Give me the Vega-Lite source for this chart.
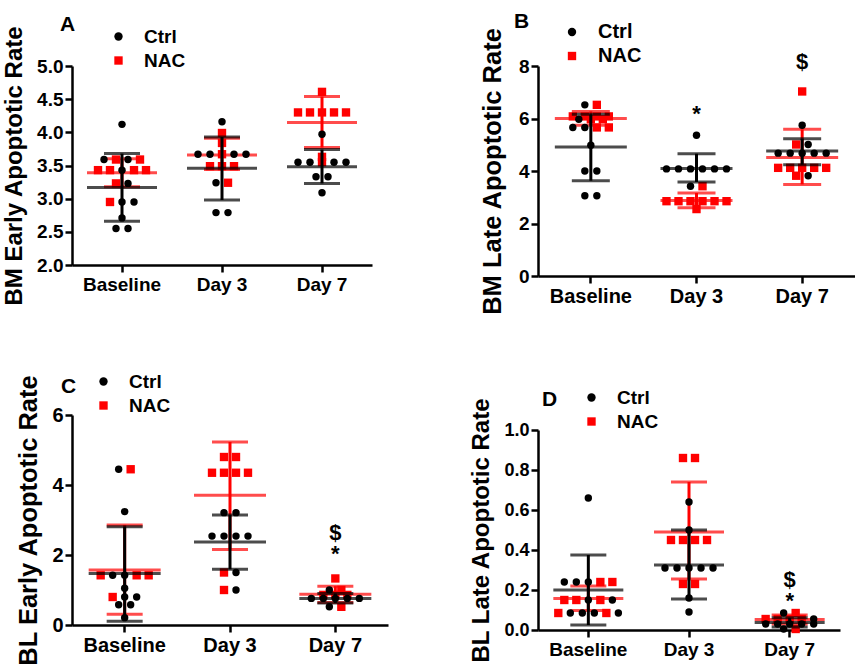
{
"$schema":"https://vega.github.io/schema/vega-lite/v6.json",
"padding":{"left":2,"top":11,"right":0,"bottom":0},
"background":"white",
"datasets":{
"pts":[
{"p":"A","day":"Baseline","g":"Ctrl","v":4.12},
{"p":"A","day":"Baseline","g":"Ctrl","v":3.59},{"p":"A","day":"Baseline","g":"NAC","v":3.59},{"p":"A","day":"Baseline","g":"Ctrl","v":3.59},{"p":"A","day":"Baseline","g":"NAC","v":3.59},
{"p":"A","day":"Baseline","g":"NAC","v":3.43},{"p":"A","day":"Baseline","g":"NAC","v":3.43},{"p":"A","day":"Baseline","g":"Ctrl","v":3.43},{"p":"A","day":"Baseline","g":"NAC","v":3.43},{"p":"A","day":"Baseline","g":"NAC","v":3.43},
{"p":"A","day":"Baseline","g":"NAC","v":3.23},{"p":"A","day":"Baseline","g":"Ctrl","v":3.23},
{"p":"A","day":"Baseline","g":"NAC","v":2.95},{"p":"A","day":"Baseline","g":"Ctrl","v":2.95},{"p":"A","day":"Baseline","g":"Ctrl","v":2.95},
{"p":"A","day":"Baseline","g":"Ctrl","v":2.71},
{"p":"A","day":"Baseline","g":"Ctrl","v":2.55},{"p":"A","day":"Baseline","g":"Ctrl","v":2.55},
{"p":"A","day":"Day 3","g":"Ctrl","v":4.16},
{"p":"A","day":"Day 3","g":"NAC","v":3.99},
{"p":"A","day":"Day 3","g":"NAC","v":3.84},
{"p":"A","day":"Day 3","g":"Ctrl","v":3.67},{"p":"A","day":"Day 3","g":"Ctrl","v":3.67},{"p":"A","day":"Day 3","g":"NAC","v":3.67},{"p":"A","day":"Day 3","g":"Ctrl","v":3.67},{"p":"A","day":"Day 3","g":"Ctrl","v":3.67},
{"p":"A","day":"Day 3","g":"NAC","v":3.49},{"p":"A","day":"Day 3","g":"NAC","v":3.49},{"p":"A","day":"Day 3","g":"NAC","v":3.49},
{"p":"A","day":"Day 3","g":"Ctrl","v":3.24},{"p":"A","day":"Day 3","g":"NAC","v":3.24},
{"p":"A","day":"Day 3","g":"Ctrl","v":2.79},{"p":"A","day":"Day 3","g":"Ctrl","v":2.79},
{"p":"A","day":"Day 7","g":"NAC","v":4.61},
{"p":"A","day":"Day 7","g":"NAC","v":4.3},{"p":"A","day":"Day 7","g":"NAC","v":4.3},{"p":"A","day":"Day 7","g":"NAC","v":4.3},{"p":"A","day":"Day 7","g":"NAC","v":4.3},{"p":"A","day":"Day 7","g":"NAC","v":4.3},
{"p":"A","day":"Day 7","g":"Ctrl","v":3.97},
{"p":"A","day":"Day 7","g":"NAC","v":3.63},
{"p":"A","day":"Day 7","g":"Ctrl","v":3.55},{"p":"A","day":"Day 7","g":"Ctrl","v":3.55},{"p":"A","day":"Day 7","g":"NAC","v":3.55},{"p":"A","day":"Day 7","g":"Ctrl","v":3.55},{"p":"A","day":"Day 7","g":"Ctrl","v":3.55},
{"p":"A","day":"Day 7","g":"Ctrl","v":3.33},{"p":"A","day":"Day 7","g":"Ctrl","v":3.33},
{"p":"A","day":"Day 7","g":"Ctrl","v":3.09},
{"p":"B","day":"Baseline","g":"Ctrl","v":6.52},{"p":"B","day":"Baseline","g":"NAC","v":6.52},
{"p":"B","day":"Baseline","g":"NAC","v":6.08},{"p":"B","day":"Baseline","g":"NAC","v":6.08},{"p":"B","day":"Baseline","g":"NAC","v":6.08},{"p":"B","day":"Baseline","g":"NAC","v":6.08},
{"p":"B","day":"Baseline","g":"Ctrl","v":5.97},{"p":"B","day":"Baseline","g":"NAC","v":5.97},{"p":"B","day":"Baseline","g":"NAC","v":5.97},
{"p":"B","day":"Baseline","g":"Ctrl","v":5.66},{"p":"B","day":"Baseline","g":"Ctrl","v":5.66},{"p":"B","day":"Baseline","g":"NAC","v":5.66},{"p":"B","day":"Baseline","g":"NAC","v":5.66},
{"p":"B","day":"Baseline","g":"Ctrl","v":4.98},
{"p":"B","day":"Baseline","g":"Ctrl","v":4.0},{"p":"B","day":"Baseline","g":"Ctrl","v":4.0},
{"p":"B","day":"Baseline","g":"Ctrl","v":3.06},{"p":"B","day":"Baseline","g":"Ctrl","v":3.06},
{"p":"B","day":"Day 3","g":"Ctrl","v":5.36},
{"p":"B","day":"Day 3","g":"Ctrl","v":4.08},{"p":"B","day":"Day 3","g":"Ctrl","v":4.08},{"p":"B","day":"Day 3","g":"Ctrl","v":4.08},{"p":"B","day":"Day 3","g":"Ctrl","v":4.08},{"p":"B","day":"Day 3","g":"Ctrl","v":4.08},{"p":"B","day":"Day 3","g":"Ctrl","v":4.08},
{"p":"B","day":"Day 3","g":"Ctrl","v":3.42},{"p":"B","day":"Day 3","g":"NAC","v":3.42},
{"p":"B","day":"Day 3","g":"NAC","v":2.85},{"p":"B","day":"Day 3","g":"NAC","v":2.85},{"p":"B","day":"Day 3","g":"NAC","v":2.85},{"p":"B","day":"Day 3","g":"NAC","v":2.85},{"p":"B","day":"Day 3","g":"NAC","v":2.85},{"p":"B","day":"Day 3","g":"NAC","v":2.85},
{"p":"B","day":"Day 3","g":"NAC","v":2.55},
{"p":"B","day":"Day 7","g":"NAC","v":7.03},
{"p":"B","day":"Day 7","g":"Ctrl","v":5.74},
{"p":"B","day":"Day 7","g":"NAC","v":5.01},{"p":"B","day":"Day 7","g":"Ctrl","v":5.01},
{"p":"B","day":"Day 7","g":"Ctrl","v":4.68},{"p":"B","day":"Day 7","g":"Ctrl","v":4.68},{"p":"B","day":"Day 7","g":"Ctrl","v":4.68},{"p":"B","day":"Day 7","g":"Ctrl","v":4.68},{"p":"B","day":"Day 7","g":"Ctrl","v":4.68},
{"p":"B","day":"Day 7","g":"NAC","v":4.12},{"p":"B","day":"Day 7","g":"NAC","v":4.12},{"p":"B","day":"Day 7","g":"NAC","v":4.12},{"p":"B","day":"Day 7","g":"NAC","v":4.12},{"p":"B","day":"Day 7","g":"NAC","v":4.12},
{"p":"B","day":"Day 7","g":"NAC","v":3.82},{"p":"B","day":"Day 7","g":"Ctrl","v":3.82},
{"p":"C","day":"Baseline","g":"Ctrl","v":4.45},{"p":"C","day":"Baseline","g":"NAC","v":4.45},
{"p":"C","day":"Baseline","g":"Ctrl","v":3.24},
{"p":"C","day":"Baseline","g":"NAC","v":1.42},{"p":"C","day":"Baseline","g":"Ctrl","v":1.42},{"p":"C","day":"Baseline","g":"Ctrl","v":1.42},{"p":"C","day":"Baseline","g":"NAC","v":1.42},{"p":"C","day":"Baseline","g":"NAC","v":1.42},
{"p":"C","day":"Baseline","g":"Ctrl","v":1.05},
{"p":"C","day":"Baseline","g":"NAC","v":0.8},{"p":"C","day":"Baseline","g":"Ctrl","v":0.8},{"p":"C","day":"Baseline","g":"Ctrl","v":0.8},
{"p":"C","day":"Baseline","g":"Ctrl","v":0.58},{"p":"C","day":"Baseline","g":"Ctrl","v":0.58},
{"p":"C","day":"Baseline","g":"Ctrl","v":0.21},
{"p":"C","day":"Day 3","g":"NAC","v":4.8},{"p":"C","day":"Day 3","g":"NAC","v":4.8},
{"p":"C","day":"Day 3","g":"NAC","v":4.35},{"p":"C","day":"Day 3","g":"NAC","v":4.35},{"p":"C","day":"Day 3","g":"NAC","v":4.35},{"p":"C","day":"Day 3","g":"NAC","v":4.35},
{"p":"C","day":"Day 3","g":"Ctrl","v":3.21},{"p":"C","day":"Day 3","g":"Ctrl","v":3.21},
{"p":"C","day":"Day 3","g":"Ctrl","v":2.54},{"p":"C","day":"Day 3","g":"Ctrl","v":2.54},{"p":"C","day":"Day 3","g":"Ctrl","v":2.54},{"p":"C","day":"Day 3","g":"Ctrl","v":2.54},
{"p":"C","day":"Day 3","g":"NAC","v":1.5},{"p":"C","day":"Day 3","g":"Ctrl","v":1.5},
{"p":"C","day":"Day 3","g":"NAC","v":1.0},{"p":"C","day":"Day 3","g":"Ctrl","v":1.0},
{"p":"C","day":"Day 7","g":"NAC","v":1.33},
{"p":"C","day":"Day 7","g":"Ctrl","v":1.0},{"p":"C","day":"Day 7","g":"NAC","v":1.0},
{"p":"C","day":"Day 7","g":"NAC","v":0.86},{"p":"C","day":"Day 7","g":"NAC","v":0.86},{"p":"C","day":"Day 7","g":"NAC","v":0.86},
{"p":"C","day":"Day 7","g":"Ctrl","v":0.76},{"p":"C","day":"Day 7","g":"Ctrl","v":0.76},{"p":"C","day":"Day 7","g":"Ctrl","v":0.76},{"p":"C","day":"Day 7","g":"Ctrl","v":0.76},{"p":"C","day":"Day 7","g":"Ctrl","v":0.76},
{"p":"C","day":"Day 7","g":"Ctrl","v":0.52},{"p":"C","day":"Day 7","g":"NAC","v":0.52},
{"p":"D","day":"Baseline","g":"Ctrl","v":0.66},
{"p":"D","day":"Baseline","g":"Ctrl","v":0.24},{"p":"D","day":"Baseline","g":"Ctrl","v":0.24},{"p":"D","day":"Baseline","g":"Ctrl","v":0.24},{"p":"D","day":"Baseline","g":"NAC","v":0.24},{"p":"D","day":"Baseline","g":"NAC","v":0.24},
{"p":"D","day":"Baseline","g":"NAC","v":0.15},{"p":"D","day":"Baseline","g":"NAC","v":0.15},{"p":"D","day":"Baseline","g":"Ctrl","v":0.15},{"p":"D","day":"Baseline","g":"NAC","v":0.15},{"p":"D","day":"Baseline","g":"Ctrl","v":0.15},
{"p":"D","day":"Baseline","g":"NAC","v":0.085},{"p":"D","day":"Baseline","g":"Ctrl","v":0.085},{"p":"D","day":"Baseline","g":"Ctrl","v":0.085},{"p":"D","day":"Baseline","g":"Ctrl","v":0.085},{"p":"D","day":"Baseline","g":"NAC","v":0.085},{"p":"D","day":"Baseline","g":"Ctrl","v":0.085},
{"p":"D","day":"Day 3","g":"NAC","v":0.86},{"p":"D","day":"Day 3","g":"NAC","v":0.86},
{"p":"D","day":"Day 3","g":"Ctrl","v":0.64},
{"p":"D","day":"Day 3","g":"Ctrl","v":0.5},
{"p":"D","day":"Day 3","g":"NAC","v":0.45},{"p":"D","day":"Day 3","g":"NAC","v":0.45},{"p":"D","day":"Day 3","g":"NAC","v":0.45},{"p":"D","day":"Day 3","g":"NAC","v":0.45},
{"p":"D","day":"Day 3","g":"Ctrl","v":0.31},{"p":"D","day":"Day 3","g":"Ctrl","v":0.31},{"p":"D","day":"Day 3","g":"Ctrl","v":0.31},{"p":"D","day":"Day 3","g":"Ctrl","v":0.31},{"p":"D","day":"Day 3","g":"Ctrl","v":0.31},
{"p":"D","day":"Day 3","g":"NAC","v":0.23},{"p":"D","day":"Day 3","g":"NAC","v":0.23},
{"p":"D","day":"Day 3","g":"Ctrl","v":0.16},
{"p":"D","day":"Day 3","g":"Ctrl","v":0.09},
{"p":"D","day":"Day 7","g":"Ctrl","v":0.085},{"p":"D","day":"Day 7","g":"NAC","v":0.085},
{"p":"D","day":"Day 7","g":"NAC","v":0.055},{"p":"D","day":"Day 7","g":"NAC","v":0.055},{"p":"D","day":"Day 7","g":"NAC","v":0.055},{"p":"D","day":"Day 7","g":"NAC","v":0.055},{"p":"D","day":"Day 7","g":"Ctrl","v":0.055},
{"p":"D","day":"Day 7","g":"Ctrl","v":0.03},{"p":"D","day":"Day 7","g":"Ctrl","v":0.03},{"p":"D","day":"Day 7","g":"Ctrl","v":0.03},{"p":"D","day":"Day 7","g":"Ctrl","v":0.03},{"p":"D","day":"Day 7","g":"Ctrl","v":0.03},
{"p":"D","day":"Day 7","g":"Ctrl","v":0.005},{"p":"D","day":"Day 7","g":"NAC","v":0.005}
],
"sum":[
{"p":"A","day":"Baseline","g":"Ctrl","m":3.17,"lo":2.66,"hi":3.68},
{"p":"A","day":"Baseline","g":"NAC","m":3.39,"lo":3.18,"hi":3.6},
{"p":"A","day":"Day 3","g":"Ctrl","m":3.46,"lo":2.98,"hi":3.93},
{"p":"A","day":"Day 3","g":"NAC","m":3.66,"lo":3.44,"hi":3.91},
{"p":"A","day":"Day 7","g":"Ctrl","m":3.48,"lo":3.23,"hi":3.74},
{"p":"A","day":"Day 7","g":"NAC","m":4.15,"lo":3.77,"hi":4.54},
{"p":"B","day":"Baseline","g":"Ctrl","m":4.91,"lo":3.63,"hi":6.16},
{"p":"B","day":"Baseline","g":"NAC","m":6.0,"lo":5.74,"hi":6.27},
{"p":"B","day":"Day 3","g":"Ctrl","m":4.1,"lo":3.58,"hi":4.66},
{"p":"B","day":"Day 3","g":"NAC","m":2.88,"lo":2.6,"hi":3.16},
{"p":"B","day":"Day 7","g":"Ctrl","m":4.76,"lo":4.24,"hi":5.23},
{"p":"B","day":"Day 7","g":"NAC","m":4.51,"lo":3.49,"hi":5.59},
{"p":"C","day":"Baseline","g":"Ctrl","m":1.47,"lo":0.11,"hi":2.81},
{"p":"C","day":"Baseline","g":"NAC","m":1.57,"lo":0.31,"hi":2.86},
{"p":"C","day":"Day 3","g":"Ctrl","m":2.37,"lo":1.59,"hi":3.14},
{"p":"C","day":"Day 3","g":"NAC","m":3.71,"lo":2.16,"hi":5.23},
{"p":"C","day":"Day 7","g":"Ctrl","m":0.76,"lo":0.63,"hi":0.9},
{"p":"C","day":"Day 7","g":"NAC","m":0.88,"lo":0.64,"hi":1.11},
{"p":"D","day":"Baseline","g":"Ctrl","m":0.2,"lo":0.025,"hi":0.375},
{"p":"D","day":"Baseline","g":"NAC","m":0.158,"lo":0.097,"hi":0.22},
{"p":"D","day":"Day 3","g":"Ctrl","m":0.325,"lo":0.155,"hi":0.5},
{"p":"D","day":"Day 3","g":"NAC","m":0.49,"lo":0.255,"hi":0.74},
{"p":"D","day":"Day 7","g":"Ctrl","m":0.038,"lo":0.015,"hi":0.061},
{"p":"D","day":"Day 7","g":"NAC","m":0.052,"lo":0.03,"hi":0.075}
],
"ann":[
{"p":"B","day":"Day 3","v":6.16,"t":"*"},
{"p":"B","day":"Day 7","v":8.15,"t":"$"},
{"p":"C","day":"Day 7","v":2.64,"t":"$"},
{"p":"C","day":"Day 7","v":2.02,"t":"*"},
{"p":"D","day":"Day 7","v":0.25,"t":"$"},
{"p":"D","day":"Day 7","v":0.145,"t":"*"}
]
},
"hconcat":[
{"vconcat":[
{
"width":300,"height":199,
"title":{"text":"A","anchor":"start","frame":"group","dx":-12,"offset":0,"dy":10},
"encoding":{"x":{"field":"day","type":"nominal","scale":{"domain":["Baseline","Day 3","Day 7"],"paddingInner":0,"paddingOuter":0},"axis":{"title":null,"labelAngle":0,"labelPadding":3,"labelFontSize":19}}},
"layer":[
{"data":{"name":"pts"},"transform":[{"filter":"datum.p==='A'"},{"window":[{"op":"row_number","as":"r"}],"groupby":["day","v"]},{"joinaggregate":[{"op":"count","as":"n"}],"groupby":["day","v"]},{"calculate":"datum.r-(datum.n+1)/2","as":"o"},{"filter":"datum.g==='NAC'"}],
"mark":{"type":"point","filled":true,"opacity":1,"size":70},
"encoding":{"y":{"field":"v","type":"quantitative","scale":{"domain":[2,5]},"axis":{"title":"BM Early Apoptotic Rate","values":[2,2.5,3,3.5,4,4.5,5],"format":".1f","titleFontSize":24,"labelFontSize":19,"labelOverlap":false}},
"xOffset":{"field":"o","type":"quantitative","scale":{"domain":[-4.1667,4.1667]}},
"color":{"field":"g","type":"nominal","scale":{"domain":["Ctrl","NAC"],"range":["#000000","#ff0000"]},"legend":{"orient":"none","legendX":37,"legendY":-39,"title":null}},
"shape":{"field":"g","type":"nominal","scale":{"domain":["Ctrl","NAC"],"range":["circle","square"]},"legend":{"orient":"none","legendX":37,"legendY":-39,"title":null}}}},
{"data":{"name":"sum"},"transform":[{"filter":"datum.p==='A' && datum.g==='NAC'"}],"layer":[
{"mark":{"type":"rule","color":"#ff0000","strokeWidth":3},"encoding":{"y":{"field":"lo","type":"quantitative","scale":{"domain":[2,5]},"axis":{"title":"BM Early Apoptotic Rate","values":[2,2.5,3,3.5,4,4.5,5],"format":".1f","titleFontSize":24,"labelFontSize":19,"labelOverlap":false}},"y2":{"field":"hi"}}},
{"mark":{"type":"tick","color":"#ff0000","size":70,"thickness":3},"encoding":{"y":{"field":"m","type":"quantitative","scale":{"domain":[2,5]},"axis":{"title":"BM Early Apoptotic Rate","values":[2,2.5,3,3.5,4,4.5,5],"format":".1f","titleFontSize":24,"labelFontSize":19,"labelOverlap":false}}}},
{"mark":{"type":"tick","color":"#ff0000","size":36,"thickness":3},"encoding":{"y":{"field":"lo","type":"quantitative","scale":{"domain":[2,5]},"axis":{"title":"BM Early Apoptotic Rate","values":[2,2.5,3,3.5,4,4.5,5],"format":".1f","titleFontSize":24,"labelFontSize":19,"labelOverlap":false}}}},
{"mark":{"type":"tick","color":"#ff0000","size":36,"thickness":3},"encoding":{"y":{"field":"hi","type":"quantitative","scale":{"domain":[2,5]},"axis":{"title":"BM Early Apoptotic Rate","values":[2,2.5,3,3.5,4,4.5,5],"format":".1f","titleFontSize":24,"labelFontSize":19,"labelOverlap":false}}}}
]},
{"data":{"name":"pts"},"transform":[{"filter":"datum.p==='A'"},{"window":[{"op":"row_number","as":"r"}],"groupby":["day","v"]},{"joinaggregate":[{"op":"count","as":"n"}],"groupby":["day","v"]},{"calculate":"datum.r-(datum.n+1)/2","as":"o"},{"filter":"datum.g==='Ctrl'"}],
"mark":{"type":"point","filled":true,"opacity":1,"size":55},
"encoding":{"y":{"field":"v","type":"quantitative","scale":{"domain":[2,5]},"axis":{"title":"BM Early Apoptotic Rate","values":[2,2.5,3,3.5,4,4.5,5],"format":".1f","titleFontSize":24,"labelFontSize":19,"labelOverlap":false}},
"xOffset":{"field":"o","type":"quantitative","scale":{"domain":[-4.1667,4.1667]}},
"color":{"field":"g","type":"nominal","scale":{"domain":["Ctrl","NAC"],"range":["#000000","#ff0000"]},"legend":{"orient":"none","legendX":37,"legendY":-39,"title":null}},
"shape":{"field":"g","type":"nominal","scale":{"domain":["Ctrl","NAC"],"range":["circle","square"]},"legend":{"orient":"none","legendX":37,"legendY":-39,"title":null}}}},
{"data":{"name":"sum"},"transform":[{"filter":"datum.p==='A' && datum.g==='Ctrl'"}],"layer":[
{"mark":{"type":"rule","color":"#000000","strokeWidth":3},"encoding":{"y":{"field":"lo","type":"quantitative","scale":{"domain":[2,5]},"axis":{"title":"BM Early Apoptotic Rate","values":[2,2.5,3,3.5,4,4.5,5],"format":".1f","titleFontSize":24,"labelFontSize":19,"labelOverlap":false}},"y2":{"field":"hi"}}},
{"mark":{"type":"tick","color":"#000000","size":70,"thickness":3},"encoding":{"y":{"field":"m","type":"quantitative","scale":{"domain":[2,5]},"axis":{"title":"BM Early Apoptotic Rate","values":[2,2.5,3,3.5,4,4.5,5],"format":".1f","titleFontSize":24,"labelFontSize":19,"labelOverlap":false}}}},
{"mark":{"type":"tick","color":"#000000","size":36,"thickness":3},"encoding":{"y":{"field":"lo","type":"quantitative","scale":{"domain":[2,5]},"axis":{"title":"BM Early Apoptotic Rate","values":[2,2.5,3,3.5,4,4.5,5],"format":".1f","titleFontSize":24,"labelFontSize":19,"labelOverlap":false}}}},
{"mark":{"type":"tick","color":"#000000","size":36,"thickness":3},"encoding":{"y":{"field":"hi","type":"quantitative","scale":{"domain":[2,5]},"axis":{"title":"BM Early Apoptotic Rate","values":[2,2.5,3,3.5,4,4.5,5],"format":".1f","titleFontSize":24,"labelFontSize":19,"labelOverlap":false}}}}
]}
]
},
{
"width":316,"height":210,
"title":{"text":"C","anchor":"start","frame":"group","dx":-11,"offset":0,"dy":25},
"encoding":{"x":{"field":"day","type":"nominal","scale":{"domain":["Baseline","Day 3","Day 7"],"paddingInner":0,"paddingOuter":0},"axis":{"title":null,"labelAngle":0,"labelPadding":3,"labelFontSize":20}}},
"layer":[
{"data":{"name":"pts"},"transform":[{"filter":"datum.p==='C'"},{"window":[{"op":"row_number","as":"r"}],"groupby":["day","v"]},{"joinaggregate":[{"op":"count","as":"n"}],"groupby":["day","v"]},{"calculate":"datum.r-(datum.n+1)/2","as":"o"},{"filter":"datum.g==='NAC'"}],
"mark":{"type":"point","filled":true,"opacity":1,"size":70},
"encoding":{"y":{"field":"v","type":"quantitative","scale":{"domain":[0,6]},"axis":{"title":"BL Early Apoptotic Rate","values":[0,2,4,6],"titleFontSize":25.5,"labelFontSize":20,"labelOverlap":false}},
"xOffset":{"field":"o","type":"quantitative","scale":{"domain":[-4.39,4.39]}},
"color":{"field":"g","type":"nominal","scale":{"domain":["Ctrl","NAC"],"range":["#000000","#ff0000"]},"legend":{"orient":"none","legendX":22,"legendY":-43,"title":null}},
"shape":{"field":"g","type":"nominal","scale":{"domain":["Ctrl","NAC"],"range":["circle","square"]},"legend":{"orient":"none","legendX":22,"legendY":-43,"title":null}}}},
{"data":{"name":"sum"},"transform":[{"filter":"datum.p==='C' && datum.g==='NAC'"}],"layer":[
{"mark":{"type":"rule","color":"#ff0000","strokeWidth":3},"encoding":{"y":{"field":"lo","type":"quantitative","scale":{"domain":[0,6]},"axis":{"title":"BL Early Apoptotic Rate","values":[0,2,4,6],"titleFontSize":25.5,"labelFontSize":20,"labelOverlap":false}},"y2":{"field":"hi"}}},
{"mark":{"type":"tick","color":"#ff0000","size":72,"thickness":3},"encoding":{"y":{"field":"m","type":"quantitative","scale":{"domain":[0,6]},"axis":{"title":"BL Early Apoptotic Rate","values":[0,2,4,6],"titleFontSize":25.5,"labelFontSize":20,"labelOverlap":false}}}},
{"mark":{"type":"tick","color":"#ff0000","size":36,"thickness":3},"encoding":{"y":{"field":"lo","type":"quantitative","scale":{"domain":[0,6]},"axis":{"title":"BL Early Apoptotic Rate","values":[0,2,4,6],"titleFontSize":25.5,"labelFontSize":20,"labelOverlap":false}}}},
{"mark":{"type":"tick","color":"#ff0000","size":36,"thickness":3},"encoding":{"y":{"field":"hi","type":"quantitative","scale":{"domain":[0,6]},"axis":{"title":"BL Early Apoptotic Rate","values":[0,2,4,6],"titleFontSize":25.5,"labelFontSize":20,"labelOverlap":false}}}}
]},
{"data":{"name":"pts"},"transform":[{"filter":"datum.p==='C'"},{"window":[{"op":"row_number","as":"r"}],"groupby":["day","v"]},{"joinaggregate":[{"op":"count","as":"n"}],"groupby":["day","v"]},{"calculate":"datum.r-(datum.n+1)/2","as":"o"},{"filter":"datum.g==='Ctrl'"}],
"mark":{"type":"point","filled":true,"opacity":1,"size":55},
"encoding":{"y":{"field":"v","type":"quantitative","scale":{"domain":[0,6]},"axis":{"title":"BL Early Apoptotic Rate","values":[0,2,4,6],"titleFontSize":25.5,"labelFontSize":20,"labelOverlap":false}},
"xOffset":{"field":"o","type":"quantitative","scale":{"domain":[-4.39,4.39]}},
"color":{"field":"g","type":"nominal","scale":{"domain":["Ctrl","NAC"],"range":["#000000","#ff0000"]},"legend":{"orient":"none","legendX":22,"legendY":-43,"title":null}},
"shape":{"field":"g","type":"nominal","scale":{"domain":["Ctrl","NAC"],"range":["circle","square"]},"legend":{"orient":"none","legendX":22,"legendY":-43,"title":null}}}},
{"data":{"name":"sum"},"transform":[{"filter":"datum.p==='C' && datum.g==='Ctrl'"}],"layer":[
{"mark":{"type":"rule","color":"#000000","strokeWidth":3},"encoding":{"y":{"field":"lo","type":"quantitative","scale":{"domain":[0,6]},"axis":{"title":"BL Early Apoptotic Rate","values":[0,2,4,6],"titleFontSize":25.5,"labelFontSize":20,"labelOverlap":false}},"y2":{"field":"hi"}}},
{"mark":{"type":"tick","color":"#000000","size":72,"thickness":3},"encoding":{"y":{"field":"m","type":"quantitative","scale":{"domain":[0,6]},"axis":{"title":"BL Early Apoptotic Rate","values":[0,2,4,6],"titleFontSize":25.5,"labelFontSize":20,"labelOverlap":false}}}},
{"mark":{"type":"tick","color":"#000000","size":36,"thickness":3},"encoding":{"y":{"field":"lo","type":"quantitative","scale":{"domain":[0,6]},"axis":{"title":"BL Early Apoptotic Rate","values":[0,2,4,6],"titleFontSize":25.5,"labelFontSize":20,"labelOverlap":false}}}},
{"mark":{"type":"tick","color":"#000000","size":36,"thickness":3},"encoding":{"y":{"field":"hi","type":"quantitative","scale":{"domain":[0,6]},"axis":{"title":"BL Early Apoptotic Rate","values":[0,2,4,6],"titleFontSize":25.5,"labelFontSize":20,"labelOverlap":false}}}}
]},
{"data":{"name":"ann"},"transform":[{"filter":"datum.p==='C'"}],"mark":{"type":"text","fontSize":22,"fontWeight":"bold","color":"#000000","baseline":"middle","align":"center"},"encoding":{"y":{"field":"v","type":"quantitative","scale":{"domain":[0,6]},"axis":{"title":"BL Early Apoptotic Rate","values":[0,2,4,6],"titleFontSize":25.5,"labelFontSize":20,"labelOverlap":false}},"text":{"field":"t"}}}
]
}
],"spacing":66,"resolve":{"scale":{"color":"independent","shape":"independent","xOffset":"independent","x":"independent","y":"independent"},"legend":{"color":"independent","shape":"independent"}}},
{"vconcat":[
{
"width":317,"height":210,
"title":{"text":"B","anchor":"start","frame":"group","dx":-24,"offset":0,"dy":10},
"encoding":{"x":{"field":"day","type":"nominal","scale":{"domain":["Baseline","Day 3","Day 7"],"paddingInner":0,"paddingOuter":0},"axis":{"title":null,"labelAngle":0,"labelPadding":3,"labelFontSize":20}}},
"layer":[
{"data":{"name":"pts"},"transform":[{"filter":"datum.p==='B'"},{"window":[{"op":"row_number","as":"r"}],"groupby":["day","v"]},{"joinaggregate":[{"op":"count","as":"n"}],"groupby":["day","v"]},{"calculate":"datum.r-(datum.n+1)/2","as":"o"},{"filter":"datum.g==='NAC'"}],
"mark":{"type":"point","filled":true,"opacity":1,"size":70},
"encoding":{"y":{"field":"v","type":"quantitative","scale":{"domain":[0,8]},"axis":{"title":"BM Late Apoptotic Rate","values":[0,2,4,6,8],"titleFontSize":25.5,"labelFontSize":19,"titlePadding":13,"labelOverlap":false}},
"xOffset":{"field":"o","type":"quantitative","scale":{"domain":[-4.4,4.4]}},
"color":{"field":"g","type":"nominal","scale":{"domain":["Ctrl","NAC"],"range":["#000000","#ff0000"]},"legend":{"orient":"none","legendX":24,"legendY":-44,"title":null,"labelFontSize":20}},
"shape":{"field":"g","type":"nominal","scale":{"domain":["Ctrl","NAC"],"range":["circle","square"]},"legend":{"orient":"none","legendX":24,"legendY":-44,"title":null,"labelFontSize":20}}}},
{"data":{"name":"sum"},"transform":[{"filter":"datum.p==='B' && datum.g==='NAC'"}],"layer":[
{"mark":{"type":"rule","color":"#ff0000","strokeWidth":3},"encoding":{"y":{"field":"lo","type":"quantitative","scale":{"domain":[0,8]},"axis":{"title":"BM Late Apoptotic Rate","values":[0,2,4,6,8],"titleFontSize":25.5,"labelFontSize":19,"titlePadding":13,"labelOverlap":false}},"y2":{"field":"hi"}}},
{"mark":{"type":"tick","color":"#ff0000","size":72,"thickness":3},"encoding":{"y":{"field":"m","type":"quantitative","scale":{"domain":[0,8]},"axis":{"title":"BM Late Apoptotic Rate","values":[0,2,4,6,8],"titleFontSize":25.5,"labelFontSize":19,"titlePadding":13,"labelOverlap":false}}}},
{"mark":{"type":"tick","color":"#ff0000","size":38,"thickness":3},"encoding":{"y":{"field":"lo","type":"quantitative","scale":{"domain":[0,8]},"axis":{"title":"BM Late Apoptotic Rate","values":[0,2,4,6,8],"titleFontSize":25.5,"labelFontSize":19,"titlePadding":13,"labelOverlap":false}}}},
{"mark":{"type":"tick","color":"#ff0000","size":38,"thickness":3},"encoding":{"y":{"field":"hi","type":"quantitative","scale":{"domain":[0,8]},"axis":{"title":"BM Late Apoptotic Rate","values":[0,2,4,6,8],"titleFontSize":25.5,"labelFontSize":19,"titlePadding":13,"labelOverlap":false}}}}
]},
{"data":{"name":"pts"},"transform":[{"filter":"datum.p==='B'"},{"window":[{"op":"row_number","as":"r"}],"groupby":["day","v"]},{"joinaggregate":[{"op":"count","as":"n"}],"groupby":["day","v"]},{"calculate":"datum.r-(datum.n+1)/2","as":"o"},{"filter":"datum.g==='Ctrl'"}],
"mark":{"type":"point","filled":true,"opacity":1,"size":55},
"encoding":{"y":{"field":"v","type":"quantitative","scale":{"domain":[0,8]},"axis":{"title":"BM Late Apoptotic Rate","values":[0,2,4,6,8],"titleFontSize":25.5,"labelFontSize":19,"titlePadding":13,"labelOverlap":false}},
"xOffset":{"field":"o","type":"quantitative","scale":{"domain":[-4.4,4.4]}},
"color":{"field":"g","type":"nominal","scale":{"domain":["Ctrl","NAC"],"range":["#000000","#ff0000"]},"legend":{"orient":"none","legendX":24,"legendY":-44,"title":null,"labelFontSize":20}},
"shape":{"field":"g","type":"nominal","scale":{"domain":["Ctrl","NAC"],"range":["circle","square"]},"legend":{"orient":"none","legendX":24,"legendY":-44,"title":null,"labelFontSize":20}}}},
{"data":{"name":"sum"},"transform":[{"filter":"datum.p==='B' && datum.g==='Ctrl'"}],"layer":[
{"mark":{"type":"rule","color":"#000000","strokeWidth":3},"encoding":{"y":{"field":"lo","type":"quantitative","scale":{"domain":[0,8]},"axis":{"title":"BM Late Apoptotic Rate","values":[0,2,4,6,8],"titleFontSize":25.5,"labelFontSize":19,"titlePadding":13,"labelOverlap":false}},"y2":{"field":"hi"}}},
{"mark":{"type":"tick","color":"#000000","size":72,"thickness":3},"encoding":{"y":{"field":"m","type":"quantitative","scale":{"domain":[0,8]},"axis":{"title":"BM Late Apoptotic Rate","values":[0,2,4,6,8],"titleFontSize":25.5,"labelFontSize":19,"titlePadding":13,"labelOverlap":false}}}},
{"mark":{"type":"tick","color":"#000000","size":38,"thickness":3},"encoding":{"y":{"field":"lo","type":"quantitative","scale":{"domain":[0,8]},"axis":{"title":"BM Late Apoptotic Rate","values":[0,2,4,6,8],"titleFontSize":25.5,"labelFontSize":19,"titlePadding":13,"labelOverlap":false}}}},
{"mark":{"type":"tick","color":"#000000","size":38,"thickness":3},"encoding":{"y":{"field":"hi","type":"quantitative","scale":{"domain":[0,8]},"axis":{"title":"BM Late Apoptotic Rate","values":[0,2,4,6,8],"titleFontSize":25.5,"labelFontSize":19,"titlePadding":13,"labelOverlap":false}}}}
]},
{"data":{"name":"ann"},"transform":[{"filter":"datum.p==='B'"}],"mark":{"type":"text","fontSize":22,"fontWeight":"bold","color":"#000000","baseline":"middle","align":"center"},"encoding":{"y":{"field":"v","type":"quantitative","scale":{"domain":[0,8]},"axis":{"title":"BM Late Apoptotic Rate","values":[0,2,4,6,8],"titleFontSize":25.5,"labelFontSize":19,"titlePadding":13,"labelOverlap":false}},"text":{"field":"t"}}}
]
},
{
"width":302,"height":200,
"title":{"text":"D","anchor":"start","frame":"group","dx":4,"offset":0,"dy":22},
"encoding":{"x":{"field":"day","type":"nominal","scale":{"domain":["Baseline","Day 3","Day 7"],"paddingInner":0,"paddingOuter":0},"axis":{"title":null,"labelAngle":0,"labelPadding":3,"labelFontSize":19}}},
"layer":[
{"data":{"name":"pts"},"transform":[{"filter":"datum.p==='D'"},{"window":[{"op":"row_number","as":"r"}],"groupby":["day","v"]},{"joinaggregate":[{"op":"count","as":"n"}],"groupby":["day","v"]},{"calculate":"datum.r-(datum.n+1)/2","as":"o"},{"filter":"datum.g==='NAC'"}],
"mark":{"type":"point","filled":true,"opacity":1,"size":70},
"encoding":{"y":{"field":"v","type":"quantitative","scale":{"domain":[0,1]},"axis":{"title":"BL Late Apoptotic Rate","values":[0,0.2,0.4,0.6,0.8,1],"format":".1f","titleFontSize":24,"labelFontSize":18,"labelOverlap":false}},
"xOffset":{"field":"o","type":"quantitative","scale":{"domain":[-4.19,4.19]}},
"color":{"field":"g","type":"nominal","scale":{"domain":["Ctrl","NAC"],"range":["#000000","#ff0000"]},"legend":{"orient":"none","legendX":44,"legendY":-42,"title":null}},
"shape":{"field":"g","type":"nominal","scale":{"domain":["Ctrl","NAC"],"range":["circle","square"]},"legend":{"orient":"none","legendX":44,"legendY":-42,"title":null}}}},
{"data":{"name":"sum"},"transform":[{"filter":"datum.p==='D' && datum.g==='NAC'"}],"layer":[
{"mark":{"type":"rule","color":"#ff0000","strokeWidth":3},"encoding":{"y":{"field":"lo","type":"quantitative","scale":{"domain":[0,1]},"axis":{"title":"BL Late Apoptotic Rate","values":[0,0.2,0.4,0.6,0.8,1],"format":".1f","titleFontSize":24,"labelFontSize":18,"labelOverlap":false}},"y2":{"field":"hi"}}},
{"mark":{"type":"tick","color":"#ff0000","size":70,"thickness":3},"encoding":{"y":{"field":"m","type":"quantitative","scale":{"domain":[0,1]},"axis":{"title":"BL Late Apoptotic Rate","values":[0,0.2,0.4,0.6,0.8,1],"format":".1f","titleFontSize":24,"labelFontSize":18,"labelOverlap":false}}}},
{"mark":{"type":"tick","color":"#ff0000","size":36,"thickness":3},"encoding":{"y":{"field":"lo","type":"quantitative","scale":{"domain":[0,1]},"axis":{"title":"BL Late Apoptotic Rate","values":[0,0.2,0.4,0.6,0.8,1],"format":".1f","titleFontSize":24,"labelFontSize":18,"labelOverlap":false}}}},
{"mark":{"type":"tick","color":"#ff0000","size":36,"thickness":3},"encoding":{"y":{"field":"hi","type":"quantitative","scale":{"domain":[0,1]},"axis":{"title":"BL Late Apoptotic Rate","values":[0,0.2,0.4,0.6,0.8,1],"format":".1f","titleFontSize":24,"labelFontSize":18,"labelOverlap":false}}}}
]},
{"data":{"name":"pts"},"transform":[{"filter":"datum.p==='D'"},{"window":[{"op":"row_number","as":"r"}],"groupby":["day","v"]},{"joinaggregate":[{"op":"count","as":"n"}],"groupby":["day","v"]},{"calculate":"datum.r-(datum.n+1)/2","as":"o"},{"filter":"datum.g==='Ctrl'"}],
"mark":{"type":"point","filled":true,"opacity":1,"size":55},
"encoding":{"y":{"field":"v","type":"quantitative","scale":{"domain":[0,1]},"axis":{"title":"BL Late Apoptotic Rate","values":[0,0.2,0.4,0.6,0.8,1],"format":".1f","titleFontSize":24,"labelFontSize":18,"labelOverlap":false}},
"xOffset":{"field":"o","type":"quantitative","scale":{"domain":[-4.19,4.19]}},
"color":{"field":"g","type":"nominal","scale":{"domain":["Ctrl","NAC"],"range":["#000000","#ff0000"]},"legend":{"orient":"none","legendX":44,"legendY":-42,"title":null}},
"shape":{"field":"g","type":"nominal","scale":{"domain":["Ctrl","NAC"],"range":["circle","square"]},"legend":{"orient":"none","legendX":44,"legendY":-42,"title":null}}}},
{"data":{"name":"sum"},"transform":[{"filter":"datum.p==='D' && datum.g==='Ctrl'"}],"layer":[
{"mark":{"type":"rule","color":"#000000","strokeWidth":3},"encoding":{"y":{"field":"lo","type":"quantitative","scale":{"domain":[0,1]},"axis":{"title":"BL Late Apoptotic Rate","values":[0,0.2,0.4,0.6,0.8,1],"format":".1f","titleFontSize":24,"labelFontSize":18,"labelOverlap":false}},"y2":{"field":"hi"}}},
{"mark":{"type":"tick","color":"#000000","size":70,"thickness":3},"encoding":{"y":{"field":"m","type":"quantitative","scale":{"domain":[0,1]},"axis":{"title":"BL Late Apoptotic Rate","values":[0,0.2,0.4,0.6,0.8,1],"format":".1f","titleFontSize":24,"labelFontSize":18,"labelOverlap":false}}}},
{"mark":{"type":"tick","color":"#000000","size":36,"thickness":3},"encoding":{"y":{"field":"lo","type":"quantitative","scale":{"domain":[0,1]},"axis":{"title":"BL Late Apoptotic Rate","values":[0,0.2,0.4,0.6,0.8,1],"format":".1f","titleFontSize":24,"labelFontSize":18,"labelOverlap":false}}}},
{"mark":{"type":"tick","color":"#000000","size":36,"thickness":3},"encoding":{"y":{"field":"hi","type":"quantitative","scale":{"domain":[0,1]},"axis":{"title":"BL Late Apoptotic Rate","values":[0,0.2,0.4,0.6,0.8,1],"format":".1f","titleFontSize":24,"labelFontSize":18,"labelOverlap":false}}}}
]},
{"data":{"name":"ann"},"transform":[{"filter":"datum.p==='D'"}],"mark":{"type":"text","fontSize":22,"fontWeight":"bold","color":"#000000","baseline":"middle","align":"center"},"encoding":{"y":{"field":"v","type":"quantitative","scale":{"domain":[0,1]},"axis":{"title":"BL Late Apoptotic Rate","values":[0,0.2,0.4,0.6,0.8,1],"format":".1f","titleFontSize":24,"labelFontSize":18,"labelOverlap":false}},"text":{"field":"t"}}}
]
}
],"spacing":73,"resolve":{"scale":{"color":"independent","shape":"independent","xOffset":"independent","x":"independent","y":"independent"},"legend":{"color":"independent","shape":"independent"}}}
],
"spacing":81,
"resolve":{"scale":{"color":"independent","shape":"independent","xOffset":"independent","x":"independent","y":"independent"},"legend":{"color":"independent","shape":"independent"}},
"config":{
"view":{"stroke":null},
"font":"Liberation Sans",
"axis":{"domainColor":"#000000","domainWidth":2.5,"tickColor":"#000000","tickWidth":2.5,"tickSize":7,"labelColor":"#000000","labelFont":"Liberation Sans","labelFontWeight":"bold","titleFont":"Liberation Sans","titleFontWeight":"bold","titleColor":"#000000","grid":false,"labelPadding":2,"titlePadding":10},
"legend":{"labelFont":"Liberation Sans","labelFontWeight":"bold","labelFontSize":19,"labelColor":"#000000","symbolSize":70,"rowPadding":4,"labelOffset":16,"symbolStrokeWidth":0,"padding":0},
"title":{"font":"Liberation Sans","fontSize":21,"fontWeight":"bold","color":"#000000"}
}
}
